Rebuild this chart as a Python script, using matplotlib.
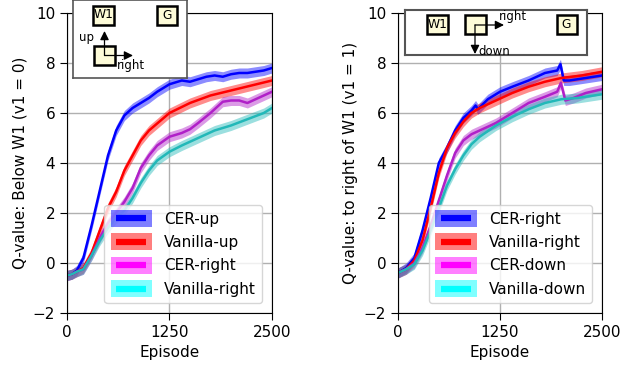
import matplotlib
matplotlib.use('Agg')
import matplotlib.pyplot as plt
from matplotlib.patches import Rectangle
from matplotlib.lines import Line2D
from matplotlib.legend_handler import HandlerBase

# ── data ──────────────────────────────────────────────────────────────────────
# left panel: below W1
l_cer_up_x = [0, 60, 120, 200, 300, 400, 500, 600, 700, 800, 900, 1000, 1100, 1250,
              1400, 1500, 1600, 1700, 1800, 1900, 2000, 2100, 2200, 2300, 2400, 2500]
l_cer_up_y = [-0.5, -0.45, -0.3, 0.2, 1.5, 2.9, 4.3, 5.3, 5.9, 6.2, 6.4, 6.6, 6.85, 7.15,
              7.3, 7.25, 7.35, 7.45, 7.5, 7.45, 7.55, 7.6, 7.6, 7.65, 7.7, 7.8]

l_van_up_x = [0, 60, 120, 200, 300, 400, 500, 600, 700, 800, 900, 1000, 1250, 1500,
              1750, 2000, 2250, 2500]
l_van_up_y = [-0.5, -0.45, -0.35, -0.2, 0.4, 1.3, 2.2, 2.85, 3.7, 4.3, 4.9, 5.3, 6.0, 6.4,
              6.7, 6.9, 7.1, 7.3]

l_cer_right_x = [0, 60, 120, 200, 300, 400, 500, 600, 700, 800, 900, 1000, 1100, 1250,
                 1400, 1500, 1600, 1750, 1900, 2000, 2100, 2200, 2300, 2400, 2500]
l_cer_right_y = [-0.5, -0.45, -0.35, -0.25, 0.3, 1.0, 1.6, 2.0, 2.45, 3.0, 3.8, 4.3, 4.7,
                 5.05, 5.2, 5.35, 5.6, 6.0, 6.45, 6.5, 6.5, 6.4, 6.55, 6.7, 6.85]

l_van_right_x = [0, 60, 120, 200, 300, 400, 500, 600, 700, 800, 900, 1000, 1100, 1250,
                 1400, 1600, 1800, 2000, 2200, 2400, 2500]
l_van_right_y = [-0.5, -0.45, -0.35, -0.25, 0.3, 0.9, 1.4, 1.8, 2.1, 2.6, 3.2, 3.7, 4.1,
                 4.45, 4.7, 5.0, 5.3, 5.5, 5.75, 6.0, 6.2]

# right panel: to right of W1
r_cer_right_x = [0, 100, 200, 300, 400, 500, 600, 700, 800, 900, 950, 980, 1100, 1250,
                 1400, 1600, 1800, 1950, 1990, 2030, 2100, 2300, 2500]
r_cer_right_y = [-0.4, -0.2, 0.2, 1.3, 2.6, 4.0, 4.6, 5.3, 5.8, 6.1, 6.3, 6.15, 6.55, 6.85,
                 7.05, 7.3, 7.6, 7.7, 7.95, 7.3, 7.3, 7.4, 7.5]

r_van_right_x = [0, 100, 200, 300, 400, 450, 500, 600, 700, 800, 900, 1000, 1200, 1400,
                 1600, 1800, 2000, 2250, 2500]
r_van_right_y = [-0.4, -0.25, 0.1, 0.9, 2.2, 2.9, 3.6, 4.6, 5.2, 5.65, 6.0, 6.2, 6.5, 6.8,
                 7.05, 7.25, 7.4, 7.5, 7.65]

r_cer_down_x = [0, 100, 200, 300, 400, 500, 600, 700, 800, 900, 1000, 1200, 1400, 1600,
                1800, 1950, 1995, 2050, 2150, 2300, 2500]
r_cer_down_y = [-0.4, -0.25, 0.0, 0.6, 1.5, 2.5, 3.5, 4.4, 4.9, 5.15, 5.3, 5.6, 6.0, 6.4,
                6.65, 6.85, 7.2, 6.5, 6.6, 6.8, 6.95]

r_van_down_x = [0, 100, 200, 300, 400, 500, 600, 700, 800, 900, 1000, 1200, 1400, 1600,
                1800, 2000, 2200, 2500]
r_van_down_y = [-0.4, -0.25, -0.05, 0.5, 1.3, 2.2, 3.1, 3.75, 4.3, 4.75, 5.05, 5.5, 5.85,
                6.15, 6.4, 6.55, 6.6, 6.75]

band_half = 0.2
x_ticks = [0, 1250, 2500]
y_ticks = [-2, 0, 2, 4, 6, 8, 10]

# ── styles ────────────────────────────────────────────────────────────────────
C_BLUE = '#0000ff'
C_RED = '#ff0000'
C_MAG = '#b020c8'
C_CYAN = '#22b8b8'
LEG_MAG = '#ff00ff'
LEG_CYAN = '#00ffff'


class BandHandler(HandlerBase):
    def create_artists(self, legend, orig_handle, xdescent, ydescent,
                       width, height, fontsize, trans):
        c = orig_handle.get_color()
        h = height * 1.25
        y0 = -ydescent + (height - h) / 2
        r = Rectangle((-xdescent, y0), width, h, facecolor=c, alpha=0.5,
                      edgecolor='none', transform=trans)
        ym = -ydescent + height / 2
        pad = width * 0.13
        ln = Line2D([-xdescent + pad, -xdescent + width - pad], [ym, ym],
                    color=c, lw=4.5, solid_capstyle='butt', transform=trans)
        return [r, ln]


def draw_panel(ax, series, ylabel):
    for x, y, c in series:
        lo = [v - band_half for v in y]
        hi = [v + band_half for v in y]
        ax.fill_between(x, lo, hi, color=c, alpha=0.45, lw=0)
        ax.plot(x, y, color=c, lw=1.8)
    ax.set_xlim(0, 2500)
    ax.set_ylim(-2, 10)
    ax.set_xticks(x_ticks)
    ax.set_yticks(y_ticks)
    ax.grid(True, color='#b0b0b0', lw=1)
    ax.set_axisbelow(True)
    ax.tick_params(labelsize=11, length=5)
    ax.set_xlabel('Episode', fontsize=11)
    ax.set_ylabel(ylabel, fontsize=11)
    for s in ax.spines.values():
        s.set_color('black')


def legend_panel(ax, labels, colors):
    handles = [Line2D([], [], color=c) for c in colors]
    ax.legend(handles, labels, handler_map={Line2D: BandHandler()},
              loc='lower right', fontsize=11, handlelength=2.7, handleheight=1.0,
              labelspacing=0.55, borderaxespad=0.65, framealpha=0.8,
              edgecolor='#cccccc', fancybox=True)


def square(ax, cx, cy, w, h, text=None):
    ax.add_patch(Rectangle((cx - w / 2, cy - h / 2), w, h, facecolor='#fdfbd8',
                           edgecolor='black', lw=1.8))
    if text:
        ax.text(cx, cy, text, ha='center', va='center', fontsize=8.8)


def arrow(ax, x0, y0, x1, y1):
    ax.annotate('', xy=(x1, y1), xytext=(x0, y0),
                arrowprops=dict(arrowstyle='-|>', color='black', lw=0.9,
                                mutation_scale=13, facecolor='white',
                                shrinkA=0, shrinkB=0))


fig = plt.figure(figsize=(6.26, 3.68), dpi=100)

ax1 = fig.add_axes([0.107, 0.1495, 0.3275, 0.8152])
ax2 = fig.add_axes([0.6358, 0.1495, 0.326, 0.8152])

draw_panel(ax1, [(l_cer_up_x, l_cer_up_y, C_BLUE),
                 (l_van_up_x, l_van_up_y, C_RED),
                 (l_cer_right_x, l_cer_right_y, C_MAG),
                 (l_van_right_x, l_van_right_y, C_CYAN)],
           'Q-value: Below W1 (v1 = 0)')
draw_panel(ax2, [(r_cer_right_x, r_cer_right_y, C_BLUE),
                 (r_van_right_x, r_van_right_y, C_RED),
                 (r_cer_down_x, r_cer_down_y, C_MAG),
                 (r_van_down_x, r_van_down_y, C_CYAN)],
           'Q-value: to right of W1 (v1 = 1)')

legend_panel(ax1, ['CER-up', 'Vanilla-up', 'CER-right', 'Vanilla-right'],
             [C_BLUE, C_RED, LEG_MAG, LEG_CYAN])
legend_panel(ax2, ['CER-right', 'Vanilla-right', 'CER-down', 'Vanilla-down'],
             [C_BLUE, C_RED, LEG_MAG, LEG_CYAN])

# ── insets (pixel-like coordinates: x right, y down) ─────────────────────────
in1 = fig.add_axes([73 / 626, 1 - 78 / 368, 114 / 626, 78 / 368])
in1.set_xlim(73, 187)
in1.set_ylim(78, 0)
in1.set_xticks([])
in1.set_yticks([])
for s in in1.spines.values():
    s.set_color('#555555')
    s.set_linewidth(1.2)
square(in1, 103.5, 15, 21, 19, 'W1')
square(in1, 167, 15.5, 20, 19, 'G')
square(in1, 104.5, 55.5, 21, 19)
arrow(in1, 104.5, 55.5, 104.5, 31)
arrow(in1, 104.5, 55.5, 133, 55.5)
in1.text(87, 38, 'up', ha='center', va='center', fontsize=8.5)
in1.text(131, 66, 'right', ha='center', va='center', fontsize=8.5)

in2 = fig.add_axes([405 / 626, 1 - 55 / 368, 182 / 626, 45 / 368])
in2.set_xlim(405, 587)
in2.set_ylim(55, 10)
in2.set_xticks([])
in2.set_yticks([])
for s in in2.spines.values():
    s.set_color('#555555')
    s.set_linewidth(1.5)
square(in2, 437.5, 25, 21, 19, 'W1')
square(in2, 475, 25, 21, 19)
square(in2, 566.5, 25, 20, 19, 'G')
arrow(in2, 475, 25, 504, 25)
arrow(in2, 475, 25, 475, 54)
in2.text(513, 17, 'right', ha='center', va='center', fontsize=8.5)
in2.text(494, 51.5, 'down', ha='center', va='center', fontsize=8.5)

plt.savefig('out.png', dpi=100)
